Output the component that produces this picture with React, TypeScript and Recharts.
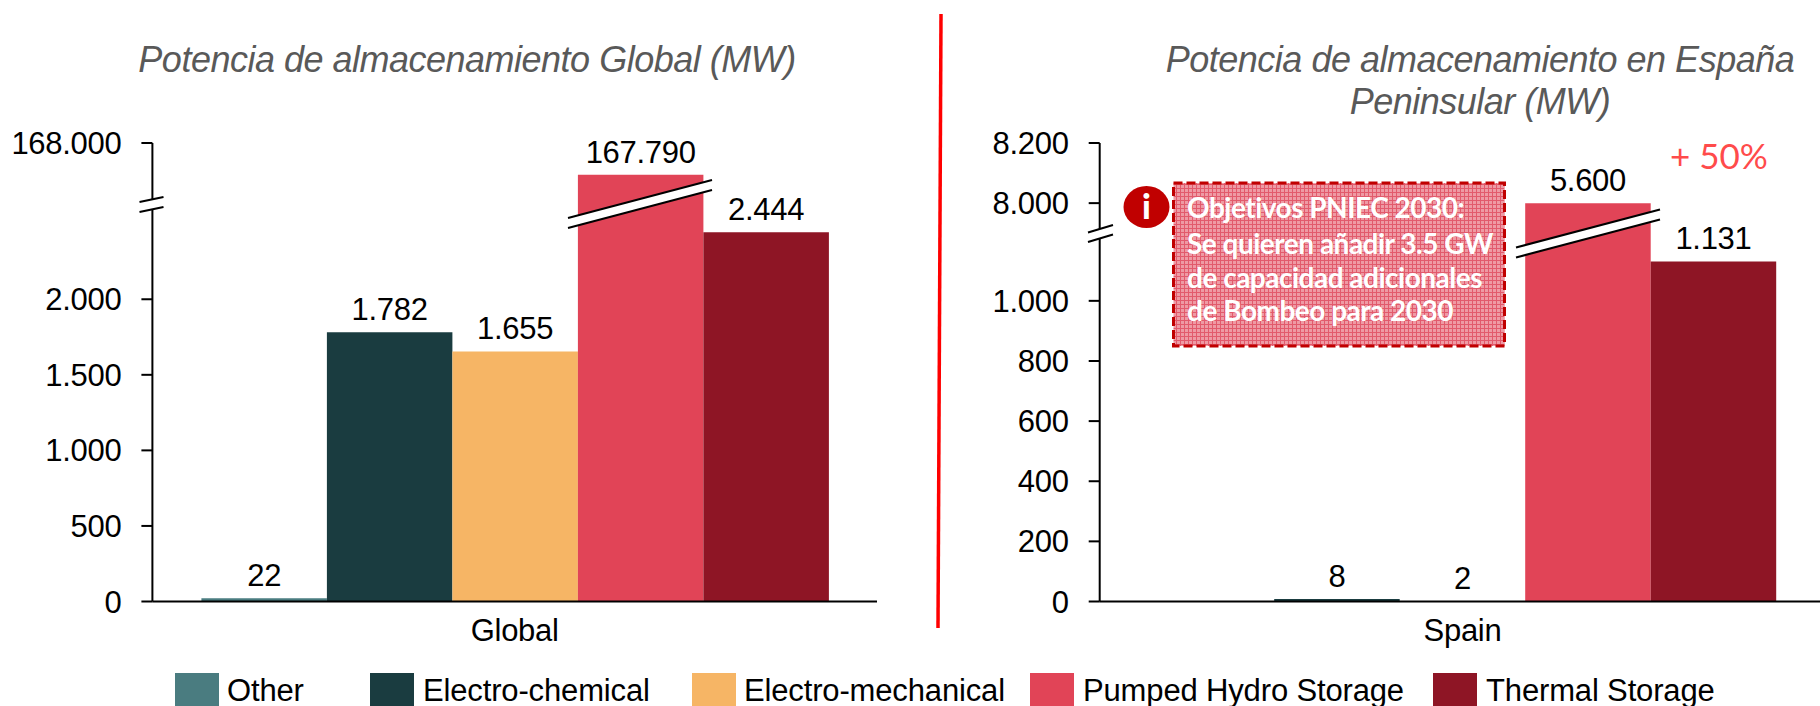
import { Bar, BarChart, LabelList, XAxis, YAxis } from 'recharts';

const seriesKeys = ['other', 'chemical', 'mechanical', 'pumped', 'thermal'];
const seriesNames = ['Other', 'Electro-chemical', 'Electro-mechanical', 'Pumped Hydro Storage', 'Thermal Storage'];
const seriesColors = ['#4A7C80', '#1A3C40', '#F6B565', '#E14457', '#8E1525'];

const globalValues = [22, 1782, 1655, 167790, 2444];
const globalLabels = ['22', '1.782', '1.655', '167.790', '2.444'];
const globalTicks = [0, 500, 1000, 1500, 2000, 168000];

// the pumped hydro bar reaches the 8.000 tick although its label says 5.600
const spainValues = [0, 8, 2, 8000, 1131];
const spainLabels = ['', '8', '2', '5.600', '1.131'];
const spainTicks = [0, 200, 400, 600, 800, 1000, 8000, 8200];

const FONT = '"Liberation Sans", Arial, sans-serif';
const SOFT_FONT = 'Lato, sans-serif';

const legendSwatchX = [175, 370, 692, 1030, 1433];
const legendTextX = [227, 423, 744, 1083, 1486];

const calloutLines = ['Objetivos PNIEC 2030:', 'Se quieren añadir 3.5 GW', 'de capacidad adicionales', 'de Bombeo para 2030'];
const calloutBaselines = [218, 254, 288, 321];

const formatThousands = (v: number) => String(v).replace(/\B(?=(\d{3})+(?!\d))/g, '.');

const chartText = { fontSize: 31, fill: '#000', fontFamily: FONT, letterSpacing: -0.3 };

interface PanelProps {
    category: string;
    values: number[];
    labels: string[];
    ticks: number[];
    breakGap: number;
    breakAt: number;
    left: number;
    width: number;
    axisX: number;
    plotWidth: number;
}

function Panel({ category, values, labels, ticks, breakGap, breakAt, left, width, axisX, plotWidth }: PanelProps) {
    // values over the break are shifted down, so the axis stays linear on both sides of it
    const squeeze = (v: number) => (v > breakAt ? v - breakGap : v);
    const row: Record<string, number | string> = { name: category };
    seriesKeys.forEach((key, i) => {
        row[key] = squeeze(values[i]);
    });
    const axisTicks = ticks.map(squeeze);
    const top = axisTicks[axisTicks.length - 1];

    return (
        <div style={{ position: 'absolute', left, top: 0 }}>
            <BarChart
                width={width}
                height={706}
                data={[row]}
                barGap={0}
                barSize={125.5}
                margin={{ top: 143, right: width - axisX - plotWidth, bottom: 0, left: 0 }}
            >
                <XAxis
                    dataKey="name"
                    height={104.5}
                    tickLine={false}
                    tickMargin={11}
                    stroke="#000"
                    strokeWidth={2}
                    tick={chartText}
                />
                <YAxis
                    width={axisX}
                    domain={[0, top]}
                    ticks={axisTicks}
                    interval={0}
                    allowDataOverflow
                    tickSize={11}
                    tickMargin={20}
                    stroke="#000"
                    strokeWidth={2}
                    tickFormatter={(v: number) => formatThousands(ticks[axisTicks.indexOf(v)])}
                    tick={chartText}
                />
                {seriesKeys.map((key, i) => (
                    <Bar key={key} dataKey={key} name={seriesNames[i]} fill={seriesColors[i]} isAnimationActive={false}>
                        <LabelList position="top" offset={12} formatter={() => labels[i]} style={chartText} />
                    </Bar>
                ))}
            </BarChart>
        </div>
    );
}

function BreakMark({ x1, y1, x2, y2, gap }: { x1: number; y1: number; x2: number; y2: number; gap: number }) {
    return (
        <g>
            <polygon points={`${x1},${y1} ${x2},${y2} ${x2},${y2 + gap} ${x1},${y1 + gap}`} fill="#fff" />
            <line x1={x1} y1={y1} x2={x2} y2={y2} stroke="#000" strokeWidth={2} />
            <line x1={x1} y1={y1 + gap} x2={x2} y2={y2 + gap} stroke="#000" strokeWidth={2} />
        </g>
    );
}

function Overlay() {
    return (
        <svg width={1820} height={706} style={{ position: 'absolute', left: 0, top: 0 }}>
            <defs>
                <pattern id="callout" width={4} height={4} patternUnits="userSpaceOnUse">
                    <rect width={4} height={4} fill="#EE9AA4" />
                    <path d="M0 0.5H4M0.5 0V4" stroke="#E25A6C" strokeWidth={1} />
                </pattern>
            </defs>

            <text x={467} y={72} textAnchor="middle" fontFamily={FONT} fontStyle="italic" fontSize={36} letterSpacing={-0.5} fill="#595959">
                Potencia de almacenamiento Global (MW)
            </text>
            <text x={1480} y={72} textAnchor="middle" fontFamily={FONT} fontStyle="italic" fontSize={36} letterSpacing={-0.5} fill="#595959">
                Potencia de almacenamiento en España
            </text>
            <text x={1480} y={114} textAnchor="middle" fontFamily={FONT} fontStyle="italic" fontSize={36} letterSpacing={-0.5} fill="#595959">
                Peninsular (MW)
            </text>

            <line x1={941} y1={14} x2={938} y2={628} stroke="#FF0000" strokeWidth={3.5} />

            <BreakMark x1={139.5} y1={202} x2={163.5} y2={197} gap={10} />
            <BreakMark x1={568} y1={218} x2={712} y2={180} gap={10} />
            <BreakMark x1={1088} y1={232.5} x2={1113} y2={225} gap={9.5} />
            <BreakMark x1={1516} y1={247.5} x2={1660} y2={209.5} gap={10} />

            <rect x={1173.5} y={183} width={331} height={163} fill="url(#callout)" stroke="#C00000" strokeWidth={3} strokeDasharray="9 4" />
            {calloutLines.map((line, i) => (
                <text key={line} x={1187} y={calloutBaselines[i]} fontFamily={SOFT_FONT} fontWeight={700} fontSize={28} letterSpacing={-0.5} fill="#fff">
                    {line}
                </text>
            ))}
            <ellipse cx={1146.5} cy={207} rx={23} ry={21} fill="#C00000" />
            <text x={1146.5} y={219} textAnchor="middle" fontFamily={SOFT_FONT} fontWeight={900} fontSize={34} fill="#fff">
                i
            </text>

            <text x={1670} y={169} fontFamily={SOFT_FONT} fontSize={35} fill="#FF4B4B">
                + 50%
            </text>

            {seriesNames.map((name, i) => (
                <g key={name}>
                    <rect x={legendSwatchX[i]} y={673} width={44} height={33} fill={seriesColors[i]} />
                    <text x={legendTextX[i]} y={700.5} fontFamily={FONT} fontSize={31} letterSpacing={-0.15} fill="#000">
                        {name}
                    </text>
                </g>
            ))}
        </svg>
    );
}

export default function App() {
    return (
        <div style={{ position: 'absolute', left: 0, top: 0, width: 1820, height: 706, overflow: 'hidden', background: '#fff' }}>
            <Panel
                category="Global"
                values={globalValues}
                labels={globalLabels}
                ticks={globalTicks}
                breakGap={164966}
                breakAt={3000}
                left={0}
                width={930}
                axisX={152.4}
                plotWidth={724.6}
            />
            <Panel
                category="Spain"
                values={spainValues}
                labels={spainLabels}
                ticks={spainTicks}
                breakGap={6675}
                breakAt={1200}
                left={940}
                width={890}
                axisX={159.7}
                plotWidth={725.6}
            />
            <Overlay />
        </div>
    );
}
